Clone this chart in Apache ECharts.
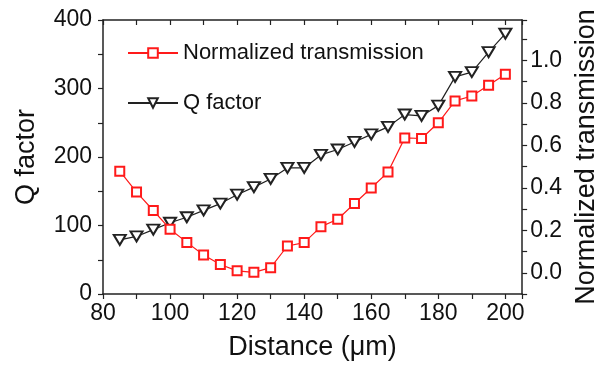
<!DOCTYPE html>
<html>
<head>
<meta charset="utf-8">
<script src="https://cdn.jsdelivr.net/npm/echarts@6/dist/echarts.min.js"></script>
<style>html,body{margin:0;padding:0;background:#fff}#c{width:608px;height:371px}</style>
</head>
<body>
<div id="c"></div>
<script>
const distance = [85,90,95,100,105,110,115,120,125,130,135,140,145,150,155,160,165,170,175,180,185,190,195,200];
const qFactor = [79,84,94,104,112,122,132,145,156,168,184,184,203,211,222,233,244,262,260,275,317,324,353,380];
const transmission = [0.478,0.38,0.293,0.205,0.143,0.084,0.039,0.009,0.002,0.024,0.126,0.142,0.217,0.252,0.326,0.399,0.474,0.635,0.632,0.706,0.809,0.832,0.883,0.935];
const seriesNames = ['Normalized transmission','Q factor'];

const FONT = 'Liberation Sans, Arial, sans-serif';
const AX = '#222';
const chart = echarts.init(document.getElementById('c'), null, {renderer:'canvas'});
const qData = distance.map((d,i)=>[d,qFactor[i]]);
const tData = distance.map((d,i)=>[d,transmission[i]]);

chart.setOption({
  animation:false,
  backgroundColor:'#fff',
  grid:{left:103,right:84,top:20,bottom:77,containLabel:false},
  legend:{
    orient:'vertical', left:122, top:37, itemWidth:50, itemHeight:12, itemGap:28,
    textStyle:{fontFamily:FONT,fontSize:22,color:'#111'},
    data:seriesNames
  },
  xAxis:[{
    type:'value', min:80, max:205, interval:10, position:'bottom',
    name:'Distance (\u03bcm)', nameLocation:'middle', nameGap:40,
    nameTextStyle:{fontFamily:FONT,fontSize:27,color:'#111'},
    axisLine:{show:true,onZero:false,lineStyle:{color:AX,width:1.5}},
    axisTick:{show:true,inside:false,length:5,lineStyle:{color:AX,width:1.2}},
    axisLabel:{fontFamily:FONT,fontSize:23,color:'#111',margin:8,
      formatter:v=>{const r=Math.round(v);return (r%20===0&&r<=200)?String(r):'';}},
    splitLine:{show:false}
  },{
    type:'value', min:80, max:205, interval:10, position:'top',
    axisLine:{show:true,onZero:false,lineStyle:{color:AX,width:1.5}},
    axisTick:{show:true,inside:true,length:5,lineStyle:{color:AX,width:1.2}},
    axisLabel:{show:false}, splitLine:{show:false}
  }],
  yAxis:[{
    type:'value', min:0, max:400, interval:50, position:'left',
    name:'Q factor', nameLocation:'middle', nameGap:63, nameRotate:90,
    nameTextStyle:{fontFamily:FONT,fontSize:27,color:'#111'},
    axisLine:{show:true,onZero:false,lineStyle:{color:AX,width:1.5}},
    axisTick:{show:true,inside:false,length:5,lineStyle:{color:AX,width:1.2}},
    axisLabel:{fontFamily:FONT,fontSize:23,color:'#111',margin:11,
      formatter:v=>{const r=Math.round(v);return r%100===0?String(r):'';}},
    splitLine:{show:false}
  },{
    type:'value', min:-0.1, max:1.19, interval:0.1, position:'right',
    name:'Normalized transmission', nameLocation:'middle', nameGap:45, nameRotate:90,
    nameTextStyle:{fontFamily:FONT,fontSize:27,color:'#111',verticalAlign:'top'},
    axisLine:{show:true,onZero:false,lineStyle:{color:AX,width:1.5}},
    axisTick:{show:true,inside:false,length:5,lineStyle:{color:AX,width:1.2}},
    axisLabel:{fontFamily:FONT,fontSize:23,color:'#111',margin:8,
      formatter:v=>{const r=Math.round(v*10);return (r%2===0&&r>=0&&r<=10)?(r/10).toFixed(1):'';}},
    splitLine:{show:false}
  }],
  series:[{
    name:seriesNames[0], type:'line', xAxisIndex:0, yAxisIndex:1, data:tData,
    symbol:'emptyRect', symbolSize:9, showSymbol:true,
    lineStyle:{color:'#ff1a1a',width:1.2},
    itemStyle:{color:'#ff1a1a',borderColor:'#ff1a1a',borderWidth:1.5},
    z:3
  },{
    name:seriesNames[1], type:'line', xAxisIndex:0, yAxisIndex:0, data:qData,
    symbol:'emptyTriangle', symbolSize:[12,10], symbolRotate:180, showSymbol:true,
    lineStyle:{color:'#222',width:1.2},
    itemStyle:{color:'#222',borderColor:'#222',borderWidth:1.3},
    z:2
  }]
});
</script>
</body>
</html>
